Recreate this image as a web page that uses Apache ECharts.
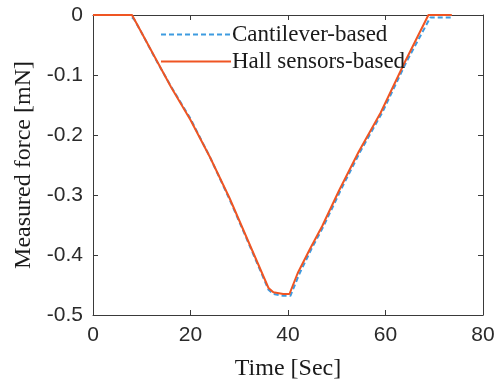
<!DOCTYPE html>
<html>
<head>
<meta charset="utf-8">
<script src="https://cdn.jsdelivr.net/npm/echarts@6/dist/echarts.min.js"></script>
<style>html,body{margin:0;padding:0;background:#fff}#c{width:501px;height:386px}</style>
</head>
<body>
<div id="c"></div>
<script>
var seriesNames = ['Cantilever-based', 'Hall sensors-based'];
var xTicks = [0, 20, 40, 60, 80];
var yTicks = [0, -0.1, -0.2, -0.3, -0.4, -0.5];

var cantileverData = [
  [0,0],[7.5,0],[8.5,-0.008],[10,-0.03],[13,-0.076],[16,-0.119],[20,-0.173],[24,-0.237],
  [28,-0.307],[32,-0.382],[36,-0.458],[37,-0.465],[39,-0.468],[40.5,-0.468],[42.3,-0.432],
  [44.8,-0.39],[47.3,-0.352],[50.8,-0.292],[54.8,-0.228],[59.3,-0.163],[64.3,-0.078],[69.2,-0.004],[73.6,-0.004]
];
var hallData = [
  [0,0],[8,0],[10,-0.03],[13,-0.075],[16,-0.12],[20,-0.175],[24,-0.237],[28,-0.305],
  [32,-0.38],[36,-0.455],[37,-0.462],[39,-0.465],[40.3,-0.465],[42,-0.43],[44.5,-0.39],
  [47,-0.352],[50.5,-0.292],[54.5,-0.228],[59,-0.163],[64,-0.078],[68.8,0],[73.6,0]
];

var axisColor = '#3a3a3a';
var labelFont = {fontFamily: 'Liberation Sans, Arial, sans-serif', fontSize: 21, color: '#2a2a2a'};
var chart = echarts.init(document.getElementById('c'), null, {renderer: 'canvas'});
chart.setOption({
  animation: false,
  backgroundColor: '#fff',
  grid: {left: 93, top: 15, right: 18, bottom: 70, containLabel: false},
  legend: {
    orient: 'vertical', left: 155, top: 18, itemWidth: 70, itemHeight: 12, itemGap: 4,
    itemStyle: {opacity: 0},
    textStyle: {fontFamily: 'Liberation Serif, Times New Roman, serif', fontSize: 23, color: '#1a1a1a', padding: [0,0,0,-4]},
    data: seriesNames
  },
  xAxis: [{
    type: 'value', min: 0, max: 80, interval: 20,
    name: 'Time [Sec]', nameLocation: 'middle', nameGap: 42,
    nameTextStyle: {fontFamily: 'Liberation Serif, Times New Roman, serif', fontSize: 24, color: '#1a1a1a'},
    axisLine: {show: true, onZero: false, lineStyle: {color: axisColor, width: 1}},
    axisTick: {show: true, inside: true, length: 5, lineStyle: {color: axisColor}},
    axisLabel: Object.assign({margin: 10, formatter: function(v){ return xTicks.indexOf(v) >= 0 ? String(v) : ''; }}, labelFont),
    splitLine: {show: false}
  }, {
    type: 'value', min: 0, max: 80, interval: 20, position: 'top',
    axisLine: {show: true, onZero: false, lineStyle: {color: axisColor, width: 1}},
    axisTick: {show: true, inside: true, length: 5, lineStyle: {color: axisColor}},
    axisLabel: {show: false}, splitLine: {show: false}
  }],
  yAxis: [{
    type: 'value', min: -0.5, max: 0, interval: 0.1,
    name: 'Measured force [mN]', nameLocation: 'middle', nameGap: 53,
    nameTextStyle: {fontFamily: 'Liberation Serif, Times New Roman, serif', fontSize: 24, color: '#1a1a1a'},
    axisLine: {show: true, onZero: false, lineStyle: {color: axisColor, width: 1}},
    axisTick: {show: true, inside: true, length: 5, lineStyle: {color: axisColor}},
    axisLabel: Object.assign({margin: 10, formatter: function(v){
      var r = Math.round(v*10)/10; return r === 0 ? '0' : r.toFixed(1); }}, labelFont),
    splitLine: {show: false}
  }, {
    type: 'value', min: -0.5, max: 0, interval: 0.1, position: 'right',
    axisLine: {show: true, onZero: false, lineStyle: {color: axisColor, width: 1}},
    axisTick: {show: true, inside: true, length: 5, lineStyle: {color: axisColor}},
    axisLabel: {show: false}, splitLine: {show: false}
  }],
  series: [{
    name: seriesNames[0], type: 'line', data: cantileverData, showSymbol: false, symbol: 'none',
    lineStyle: {color: '#3d9be0', width: 2, type: [5, 3]}, itemStyle: {color: '#3d9be0'}, z: 2
  }, {
    name: seriesNames[1], type: 'line', data: hallData, showSymbol: false, symbol: 'none',
    lineStyle: {color: '#ef5523', width: 2}, itemStyle: {color: '#ef5523'}, z: 3
  }]
});
</script>
</body>
</html>
